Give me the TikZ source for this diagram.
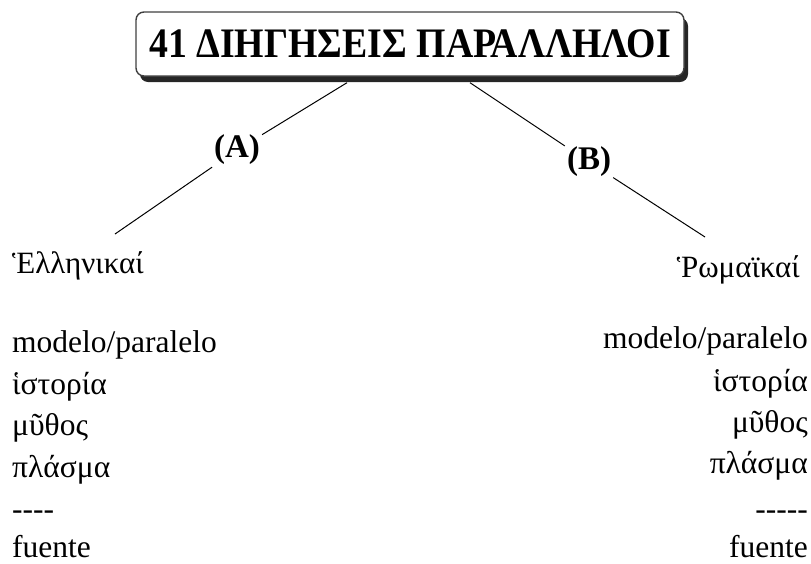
\documentclass[tikz,border=0pt]{standalone}
\usepackage{fontspec}
\usepackage{graphicx}
\setmainfont{Liberation Serif}
\usetikzlibrary{positioning,shadows}

\tikzset{
    titlebox/.style={draw=black!75, line width=1.4pt, rounded corners=8pt, fill=white,
        minimum width=548pt, minimum height=64pt,
        drop shadow={shadow xshift=4pt, shadow yshift=-6pt, fill=black!85, opacity=1},
        font=\fontsize{42}{44}\selectfont\bfseries},
    branch/.style={inner sep=2pt, font=\fontsize{33}{36}\selectfont\bfseries},
    side/.style={inner sep=0pt, font=\fontsize{31}{34}\selectfont},
    word/.style={inner sep=0pt, font=\fontsize{31.5}{34}\selectfont}
}

\begin{document}
\begin{tikzpicture}[x=1pt, y=-1pt]
    \useasboundingbox (0, 0) rectangle (811, 563);

    \node [titlebox] (title) at (410, 44) {\scalebox{0.9}[1]{41 ΔΙΗΓΗΣΕΙΣ ΠΑΡΑΛΛΗΛΟΙ}};

    \node [branch] (A) at (237, 150) {(A)};
    \node [branch] (B) at (589, 162) {(B)};

    \node [side, anchor=base west] (hell) at (12, 273) {Ἑλληνικαί};
    \node [side, anchor=base east] (rom) at (800, 277) {Ῥωμαϊκαί};
    \coordinate (endA) at (115, 234);
    \coordinate (endB) at (705, 237);

    \draw [line width=1pt] ([xshift=-63pt, yshift=-6pt]title.south) -- (A);
    \draw [line width=1pt] ([xshift=60pt, yshift=-6pt]title.south) -- (B);
    \draw [line width=1pt] (A) -- (endA);
    \draw [line width=1pt] (B) -- (endB);

    % left list
    \node [word, anchor=base west] (a1) at (12, 352) {modelo/paralelo};
    \node [word, anchor=base west] (a2) at (12, 394) {ἱστορία};
    \node [word, anchor=base west] (a3) at (12, 435) {μῦθος};
    \node [word, anchor=base west] (a4) at (12, 477) {πλάσμα};
    \node [word, anchor=base west] (a5) at (12, 519) {-{}-{}-{}-};
    \node [word, anchor=base west] (a6) at (12, 557) {fuente};

    % right list
    \node [word, anchor=base east] (b1) at (808, 348) {modelo/paralelo};
    \node [word, anchor=base east] (b2) at (808, 391) {ἱστορία};
    \node [word, anchor=base east] (b3) at (808, 432) {μῦθος};
    \node [word, anchor=base east] (b4) at (808, 473) {πλάσμα};
    \node [word, anchor=base east] (b5) at (808, 519) {-{}-{}-{}-{}-};
    \node [word, anchor=base east] (b6) at (808, 557) {fuente};
\end{tikzpicture}
\end{document}
